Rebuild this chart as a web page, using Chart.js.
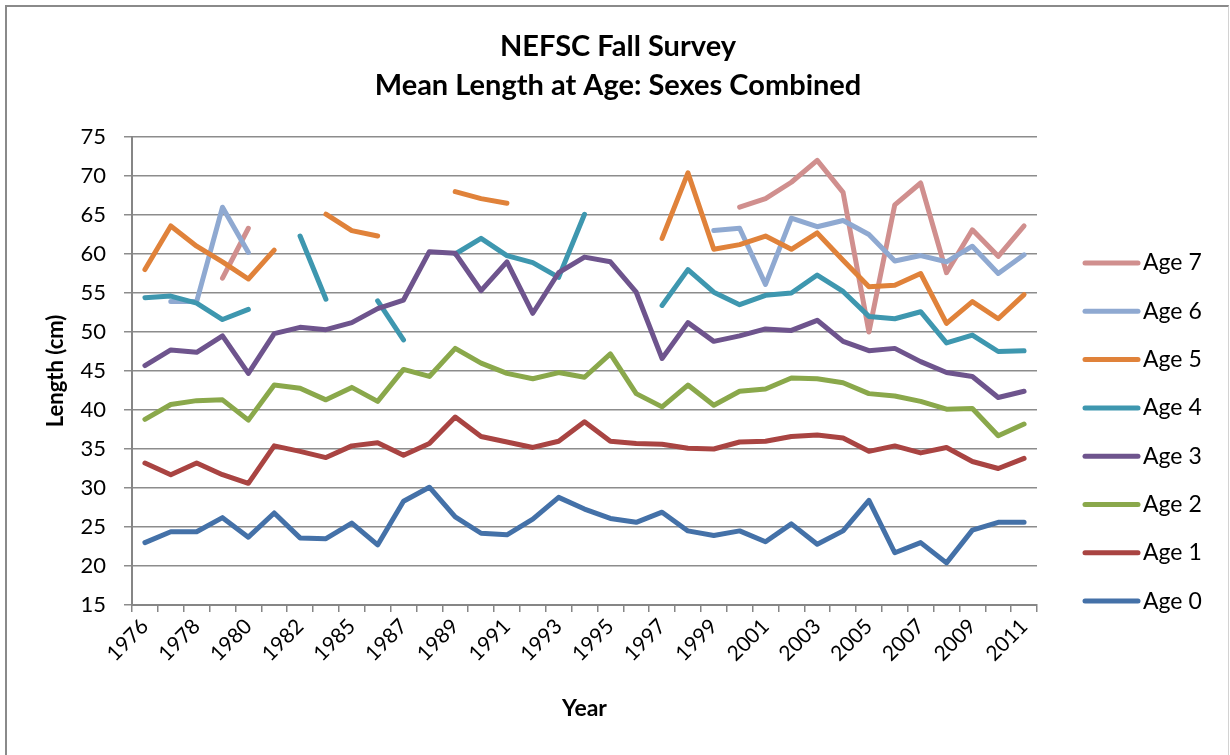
<!DOCTYPE html>
<html>
<head>
<meta charset="utf-8">
<script src="https://cdn.jsdelivr.net/npm/chart.js@4.4.1/dist/chart.umd.min.js"></script>
<style>
  html, body { margin: 0; padding: 0; background: #fff; }
  #wrap { position: relative; width: 1230px; height: 755px; overflow: hidden; }
  #frame {
    position: absolute; left: 5px; top: 5px; width: 1221px; height: 800px;
    border-left: 2px solid #8a8a8a; border-top: 2px solid #8a8a8a; border-right: 1px solid #d2d2d2;
  }
  #chart { position: absolute; left: 0; top: 0; }
</style>
</head>
<body>
<div id="wrap">
  <div id="frame"></div>
  <canvas id="chart" width="1230" height="755"></canvas>
</div>
<script>
// Years on the category axis (one survey year is missing between 1982 and 1985)
const years = ['1976', '1977', '1978', '1979', '1980', '1981', '1982', '1984', '1985', '1986',
  '1987', '1988', '1989', '1990', '1991', '1992', '1993', '1994', '1995', '1996',
  '1997', '1998', '1999', '2000', '2001', '2002', '2003', '2004', '2005', '2006',
  '2007', '2008', '2009', '2010', '2011'];

// Mean length (cm) by age, null = no data that year
const age0 = [23.0, 24.4, 24.4, 26.2, 23.7, 26.8, 23.6, 23.5, 25.5, 22.7, 28.3, 30.1, 26.3, 24.2, 24.0, 26.0, 28.8, 27.3,
  26.1, 25.6, 26.9, 24.5, 23.9, 24.5, 23.1, 25.4, 22.8, 24.5, 28.4, 21.7, 23.0, 20.4, 24.6, 25.6, 25.6];
const age1 = [33.2, 31.7, 33.2, 31.7, 30.6, 35.4, 34.7, 33.9, 35.4, 35.8, 34.2, 35.7, 39.1, 36.6, 35.9, 35.2, 36.0, 38.5,
  36.0, 35.7, 35.6, 35.1, 35.0, 35.9, 36.0, 36.6, 36.8, 36.4, 34.7, 35.4, 34.5, 35.2, 33.4, 32.5, 33.8];
const age2 = [38.8, 40.7, 41.2, 41.3, 38.7, 43.2, 42.8, 41.3, 42.9, 41.1, 45.2, 44.3, 47.9, 46.0, 44.7, 44.0, 44.8, 44.2,
  47.2, 42.1, 40.4, 43.2, 40.6, 42.4, 42.7, 44.1, 44.0, 43.5, 42.1, 41.8, 41.1, 40.1, 40.2, 36.7, 38.2];
const age3 = [45.7, 47.7, 47.4, 49.5, 44.7, 49.8, 50.6, 50.3, 51.2, 53.0, 54.1, 60.3, 60.1, 55.3, 59.0, 52.4, 57.6, 59.6,
  59.0, 55.1, 46.6, 51.2, 48.8, 49.5, 50.4, 50.2, 51.5, 48.8, 47.6, 47.9, 46.2, 44.8, 44.3, 41.6, 42.4];
const age4 = [54.4, 54.6, 53.7, 51.6, 52.9, null, 62.3, 54.2, null, 54.0, 49.0, null, 60.0, 62.0, 59.8, 58.9, 57.0, 65.1,
  null, null, 53.4, 58.0, 55.1, 53.5, 54.7, 55.0, 57.3, 55.2, 52.0, 51.7, 52.6, 48.6, 49.6, 47.5, 47.6];
const age5 = [58.0, 63.6, 61.0, 59.0, 56.8, 60.5, null, 65.1, 63.0, 62.3, null, null, 68.0, 67.1, 66.5, null, null, null,
  null, null, 62.0, 70.4, 60.6, 61.2, 62.3, 60.6, 62.7, 59.2, 55.8, 56.0, 57.5, 51.1, 53.9, 51.7, 54.8];
const age6 = [null, 53.9, 53.9, 66.0, 60.2, null, null, null, null, null, null, null, null, null, null, null, null, null,
  null, null, null, null, 63.0, 63.3, 56.1, 64.6, 63.5, 64.3, 62.5, 59.1, 59.8, 59.0, 61.0, 57.5, 59.9];
const age7 = [null, null, null, 56.9, 63.3, null, null, null, null, null, null, null, null, null, null, null, null, null,
  null, null, null, null, null, 66.0, 67.1, 69.2, 72.0, 67.9, 50.0, 66.3, 69.1, 57.6, 63.1, 59.7, 63.6];

const seriesNames = ['Age 0', 'Age 1', 'Age 2', 'Age 3', 'Age 4', 'Age 5', 'Age 6', 'Age 7'];
const seriesData = [age0, age1, age2, age3, age4, age5, age6, age7];
const seriesColors = ['#4471a8', '#a94442', '#8aa84b', '#6e548d', '#3e97af', '#e0823a', '#8fa9d1', '#d08f8e'];
const titleLines = ['NEFSC Fall Survey', 'Mean Length at Age: Sexes Combined'];

const FONT = 'Lato, "Open Sans", sans-serif';
Chart.defaults.color = '#000';
Chart.defaults.font.family = FONT;

// title and right-hand legend drawn by hand so the plot area keeps its place
const titleAndLegend = {
  id: 'titleAndLegend',
  afterDraw(chart) {
    const ctx = chart.ctx;
    ctx.save();
    ctx.fillStyle = '#000';
    ctx.textBaseline = 'middle';
    ctx.textAlign = 'center';
    ctx.font = 'bold 29px ' + FONT;
    titleLines.forEach((t, i) => ctx.fillText(t, 618, 47 + i * 39));

    const n = chart.data.datasets.length;
    ctx.textAlign = 'left';
    ctx.lineCap = 'round';
    ctx.font = '23px ' + FONT;
    for (let k = 0; k < n; k++) {
      const ds = chart.data.datasets[n - 1 - k];
      const y = 263 + k * 48.3;
      ctx.strokeStyle = ds.borderColor;
      ctx.lineWidth = 5;
      ctx.beginPath();
      ctx.moveTo(1085, y);
      ctx.lineTo(1138, y);
      ctx.stroke();
      ctx.fillText(ds.label, 1143, y);
    }
    ctx.restore();
  }
};

new Chart(document.getElementById('chart'), {
  type: 'line',
  data: {
    labels: years,
    datasets: seriesData.map((d, i) => ({
      label: seriesNames[i],
      data: d,
      borderColor: seriesColors[i],
      backgroundColor: seriesColors[i],
      borderWidth: 5,
      borderCapStyle: 'round',
      borderJoinStyle: 'round',
      pointRadius: 0,
      tension: 0,
      spanGaps: false
    }))
  },
  options: {
    responsive: false,
    animation: false,
    devicePixelRatio: 1,
    layout: { padding: { left: 30, right: 193, top: 137, bottom: 30 } },
    plugins: {
      legend: { display: false },
      tooltip: { enabled: false },
      title: { display: false }
    },
    scales: {
      x: {
        offset: true,
        grid: { drawOnChartArea: false, drawTicks: true, tickLength: 7, color: '#868686', lineWidth: 1.5, offset: true },
        border: { display: true, color: '#868686', width: 2 },
        ticks: {
          autoSkip: false, maxRotation: 45, minRotation: 45, padding: 2,
          font: { size: 21 },
          callback: (v, i) => (i % 2 === 0 ? years[i] : '')
        },
        title: { display: true, text: 'Year', font: { size: 23, weight: 'bold' }, padding: { top: 0, bottom: 3 } },
        afterFit: s => { s.height = 120; }
      },
      y: {
        min: 15, max: 75,
        ticks: { stepSize: 5, padding: 18, font: { size: 22 } },
        grid: { color: '#8c8c8c', lineWidth: 1.5, tickLength: 8, drawTicks: true },
        border: { display: true, color: '#868686', width: 2 },
        title: { display: true, text: 'Length (cm)', font: { size: 22, weight: 'bold' }, padding: { top: 13, bottom: 0 } },
        afterFit: s => { s.width = 102; }
      }
    }
  },
  plugins: [titleAndLegend]
});
</script>
</body>
</html>
